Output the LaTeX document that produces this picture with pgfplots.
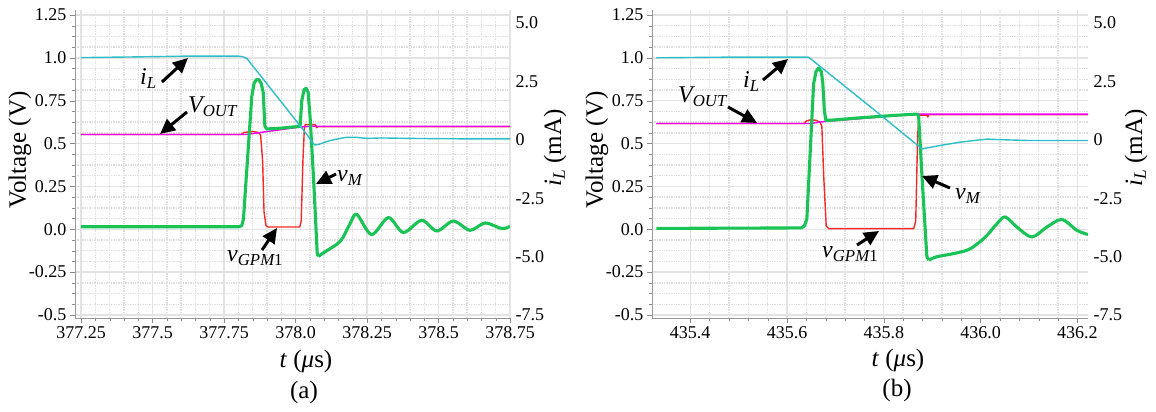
\documentclass[border=0pt]{standalone}
\usepackage{pgfplots}
\pgfplotsset{compat=1.18}
\usepackage{fontspec}
\setmainfont{Liberation Serif}
\usetikzlibrary{arrows.meta}
\definecolor{cyanL}{RGB}{45,190,200}
\definecolor{magL}{RGB}{235,0,235}
\definecolor{redL}{RGB}{245,40,40}
\definecolor{greenL}{RGB}{25,195,85}
\pgfplotsset{
  base/.style={scale only axis, height=308pt, anchor=south west,
    tick label style={font=\fontsize{18}{20}\selectfont},
    tick style={black!45}},
  leftax/.style={base, axis x line*=bottom, axis y line*=left,
    axis line style={black!40}, tick align=outside,
    grid=both, major grid style={black!11}, minor grid style={black!12, densely dotted},
    ymin=-0.5175, ymax=1.279,
    ytick={-0.5,-0.25,0,0.25,0.5,0.75,1.0,1.25},
    yticklabels={-0.5,-0.25,0.0,0.25,0.5,0.75,1.0,1.25},
    minor y tick num=3, minor x tick num=4,
    major tick length=5pt, minor tick length=3pt},
  rightax/.style={base, axis x line=none, axis y line*=right,
    y axis line style={draw=none},
    ymin=-7.628, ymax=5.557,
    ytick={-7.5,-5,-2.5,0,2.5,5},
    yticklabels={-7.5,-5.0,-2.5,0,2.5,5.0},
    major tick length=0pt, minor tick length=0pt,
    yticklabel style={xshift=2pt}},
  gline/.style={greenL, line width=3.1pt, line join=round},
  thin/.style={line width=1.4pt, line join=round},
}
\tikzset{ann/.style={line width=3pt, -{Triangle[length=15pt,width=14pt]}},
  lab/.style={font=\fontsize{24}{26}\selectfont\itshape, inner sep=0pt}}
\begin{document}
\begin{tikzpicture}
\useasboundingbox (0pt,0pt) rectangle (1156pt,412pt);
% ---------------- panel (a) ----------------
\begin{axis}[leftax, at={(75pt,94pt)}, width=435pt,
  xmin=377.229, xmax=378.75,
  xtick={377.25,377.5,377.75,378.0,378.25,378.5,378.75},
  xticklabels={377.25,377.5,377.75,378.0,378.25,378.5,378.75}]
\addplot[redL, thin] coordinates {(377.25,0.553)(377.81,0.553)(377.82,0.565)(377.85,0.57)(377.87,0.565)(377.878,0.55)(377.885,0.4)(377.89,0.1)(377.897,0.02)(377.905,0.013)(378.015,0.013)(378.02,0.05)(378.026,0.4)(378.031,0.59)(378.034,0.61)(378.07,0.61)(378.073,0.592)(378.078,0.598)(378.75,0.598)};
\addplot[magL, thin] coordinates {(377.25,0.553)(377.83,0.553)(377.9,0.57)(378.02,0.597)(378.06,0.601)(378.75,0.601)};
\addplot[gline] coordinates {(377.25,0.015)(377.80,0.015)(377.812,0.02)(377.818,0.06)(377.847,0.772)(377.855,0.85)(377.863,0.873)(377.872,0.873)(377.88,0.85)(377.887,0.80)(377.893,0.60)(377.90,0.585)(377.95,0.59)(378.0,0.598)(378.016,0.60)(378.022,0.75)(378.03,0.815)(378.037,0.822)(378.044,0.80)(378.051,0.655)(378.063,0.30)(378.076,-0.142)(378.08,-0.158)};
\addplot[gline, smooth] coordinates {(378.08,-0.158)(378.10,-0.135)(378.121,-0.113)(378.15,-0.08)(378.167,-0.045)(378.19,0.03)(378.214,0.0875)(378.266,-0.031)(378.325,0.068)(378.377,-0.019)(378.441,0.0525)(378.494,-0.01)(378.552,0.048)(378.61,-0.006)(378.663,0.037)(378.721,0.004)(378.75,0.0175)};
\end{axis}
\begin{axis}[rightax, at={(75pt,94pt)}, width=435pt, xmin=377.229, xmax=378.75]
\addplot[cyanL, thin] coordinates {(377.25,3.52)(377.45,3.55)(377.61,3.58)(377.80,3.58)(377.815,3.56)(377.83,3.48)(377.876,2.77)(377.945,1.70)(378.0,0.85)(378.04,0.22)(378.062,-0.15)(378.068,-0.22)(378.08,-0.2)(378.121,-0.03)(378.173,0.10)(378.21,0.11)(378.25,0.06)(378.3,0.08)(378.4,0.06)(378.5,0.05)(378.6,0.04)(378.75,0.04)};
\end{axis}
% ---------------- panel (b) ----------------
\begin{axis}[leftax, at={(652pt,94pt)}, width=436pt,
  xmin=435.321, xmax=436.222,
  xtick={435.4,435.6,435.8,436.0,436.2},
  xticklabels={435.4,435.6,435.8,436.0,436.2}]
\addplot[redL, thin] coordinates {(435.33,0.617)(435.636,0.617)(435.64,0.632)(435.648,0.638)(435.66,0.636)(435.668,0.625)(435.672,0.6)(435.676,0.3)(435.681,0.02)(435.686,0.004)(435.862,0.004)(435.866,0.05)(435.870,0.55)(435.873,0.665)(435.889,0.665)(435.891,0.655)(435.893,0.668)(436.222,0.668)};
\addplot[magL, thin] coordinates {(435.33,0.617)(435.648,0.617)(435.675,0.628)(435.869,0.672)(436.222,0.672)};
\addplot[gline] coordinates {(435.33,0.005)(435.63,0.008)(435.636,0.02)(435.641,0.06)(435.655,0.85)(435.66,0.92)(435.665,0.94)(435.671,0.92)(435.674,0.85)(435.677,0.70)(435.68,0.636)(435.69,0.636)(435.75,0.65)(435.82,0.664)(435.869,0.672)(435.872,0.66)(435.879,0.305)(435.889,-0.16)(435.893,-0.18)};
\addplot[gline, smooth] coordinates {(435.893,-0.18)(435.91,-0.16)(435.951,-0.138)(435.979,-0.113)(436.010,-0.045)(436.034,0.033)(436.051,0.072)(436.075,0.013)(436.106,-0.045)(436.137,0.013)(436.168,0.057)(436.199,-0.006)(436.222,-0.031)};
\end{axis}
\begin{axis}[rightax, at={(652pt,94pt)}, width=436pt, xmin=435.321, xmax=436.222]
\addplot[cyanL, thin] coordinates {(435.33,3.51)(435.483,3.54)(435.64,3.54)(435.645,3.53)(435.65,3.45)(435.782,1.25)(435.879,-0.39)(435.917,-0.24)(435.958,-0.1)(436.013,0.03)(436.05,0.0)(436.1,-0.03)(436.222,-0.03)};
\end{axis}
% ---------------- axis titles ----------------
\begin{scope}[every node/.style={font=\fontsize{25}{28}\selectfont}]
\node[rotate=90] at (20pt,262pt) {Voltage (V)};
\node[rotate=90] at (597pt,262pt) {Voltage (V)};
\node[rotate=90] at (555pt,264pt) {\textit{i}\textsubscript{\textit{L}} (mA)};
\node[rotate=90] at (1136pt,264pt) {\textit{i}\textsubscript{\textit{L}} (mA)};
\node at (306pt,50pt) {\textit{t} (\textit{μ}s)};
\node at (898pt,51pt) {\textit{t} (\textit{μ}s)};
\node at (304pt,20pt) {(a)};
\node at (897pt,22pt) {(b)};
\end{scope}
% ---------------- annotations (a) ----------------
\draw[ann] (162pt,330pt) -- (188pt,354pt);
\node[lab, anchor=base west] at (140pt,327pt) {i\textsubscript{L}};
\draw[ann] (187pt,300pt) -- (160pt,278pt);
\node[lab, anchor=base west] at (188pt,299pt) {V\textsubscript{OUT}};
\draw[ann] (336pt,238pt) -- (316pt,228pt);
\node[lab, anchor=base west] at (337pt,230pt) {v\textsubscript{M}};
\draw[ann] (262pt,162pt) -- (277pt,184pt);
\node[lab, anchor=base west] at (227pt,150pt) {v\textsubscript{GPM\upshape 1}};
% ---------------- annotations (b) ----------------
\draw[ann] (763pt,332pt) -- (788pt,353pt);
\node[lab, anchor=base west] at (743pt,324pt) {i\textsubscript{L}};
\draw[ann] (728pt,305pt) -- (757pt,289pt);
\node[lab, anchor=base west] at (678pt,309pt) {V\textsubscript{OUT}};
\draw[ann] (950pt,224pt) -- (922pt,236pt);
\node[lab, anchor=base west] at (955pt,212pt) {v\textsubscript{M}};
\draw[ann] (857pt,167pt) -- (879pt,181pt);
\node[lab, anchor=base west] at (822pt,154pt) {v\textsubscript{GPM\upshape 1}};
\end{tikzpicture}
\end{document}
